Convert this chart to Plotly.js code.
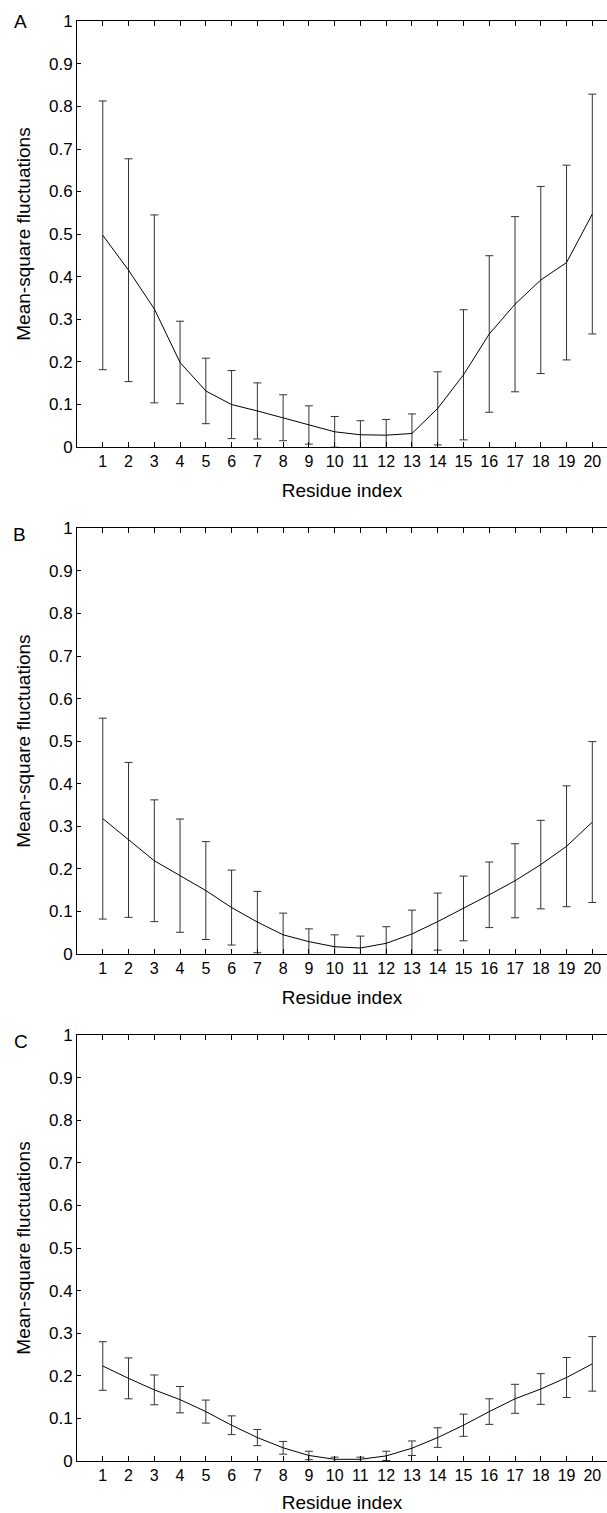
<!DOCTYPE html>
<html>
<head>
<meta charset="utf-8">
<script src="https://cdn.plot.ly/plotly-3.0.1.min.js"></script>
<style>html,body{margin:0;padding:0;background:#fff;}#chart{width:607px;height:1513px;}</style>
</head>
<body>
<div id="chart"></div>
<script>
var residues = [1,2,3,4,5,6,7,8,9,10,11,12,13,14,15,16,17,18,19,20];
var tickLabels = ["1","2","3","4","5","6","7","8","9","10","11","12","13","14","15","16","17","18","19","20"];
var yTickVals = [0,0.1,0.2,0.3,0.4,0.5,0.6,0.7,0.8,0.9,1];
var yTickText = ["0","0.1","0.2","0.3","0.4","0.5","0.6","0.7","0.8","0.9","1"];

var meanA = [0.497,0.415,0.324,0.198,0.131,0.099,0.084,0.068,0.051,0.035,0.028,0.027,0.031,0.090,0.169,0.265,0.335,0.392,0.433,0.547];
var sdA   = [0.316,0.262,0.221,0.097,0.077,0.080,0.066,0.054,0.045,0.036,0.033,0.037,0.046,0.086,0.153,0.184,0.206,0.220,0.229,0.282];

var meanB = [0.318,0.268,0.219,0.184,0.149,0.109,0.075,0.045,0.029,0.017,0.014,0.025,0.047,0.076,0.107,0.139,0.172,0.210,0.253,0.310];
var sdB   = [0.236,0.182,0.143,0.133,0.115,0.088,0.072,0.051,0.030,0.028,0.028,0.039,0.056,0.067,0.076,0.077,0.087,0.104,0.142,0.189];

var meanC = [0.223,0.194,0.167,0.144,0.116,0.084,0.055,0.031,0.013,0.004,0.004,0.012,0.030,0.055,0.084,0.116,0.146,0.169,0.196,0.228];
var sdC   = [0.057,0.048,0.035,0.031,0.027,0.022,0.019,0.015,0.010,0.005,0.005,0.011,0.017,0.023,0.026,0.030,0.034,0.036,0.047,0.064];

var panels = [
  {mean: meanA, sd: sdA, label: "A"},
  {mean: meanB, sd: sdB, label: "B"},
  {mean: meanC, sd: sdC, label: "C"}
];

var font = "Liberation Sans, Arial, sans-serif";
var traces = [];
panels.forEach(function(p, i){
  var s = i === 0 ? "" : String(i+1);
  traces.push({
    x: residues, y: p.mean, type: "scatter", mode: "lines",
    xaxis: "x" + s, yaxis: "y" + s,
    line: {color: "#000", width: 1},
    error_y: {type: "data", array: p.sd, visible: true, color: "#333", thickness: 1, width: 4},
    showlegend: false, hoverinfo: "skip"
  });
});

var domains = [[0.7044, 0.9997], [0.3521, 0.6477], [0, 0.2958]];
var layout = {
  width: 607, height: 1513,
  margin: {l: 77, r: 0, t: 21, b: 52},
  paper_bgcolor: "#fff", plot_bgcolor: "#fff",
  font: {family: font, size: 16, color: "#000"},
  showlegend: false,
  annotations: []
};
var letterY = [21.5, 534.5, 1041.5];
var letterX = [20, 19.5, 20.5];
panels.forEach(function(p, i){
  var s = i === 0 ? "" : String(i+1);
  layout["xaxis" + s] = {
    domain: [0, 1], anchor: "y" + s,
    range: [0, 20.57],
    tickmode: "array", tickvals: residues, ticktext: tickLabels,
    ticks: "inside", ticklen: 5, tickwidth: 1, tickcolor: "#000",
    showline: true, linecolor: "#000", linewidth: 1, mirror: "ticks",
    showgrid: false, zeroline: false, fixedrange: true,
    tickfont: {family: font, size: 16, color: "#000"},
    title: {text: "Residue index", font: {family: font, size: 19, color: "#000"}, standoff: 14}
  };
  layout["yaxis" + s] = {
    domain: domains[i], anchor: "x" + s,
    range: [0, 1],
    tickmode: "array", tickvals: yTickVals, ticktext: yTickText,
    ticks: "inside", ticklen: 4, tickwidth: 1, tickcolor: "#000",
    showline: true, linecolor: "#000", linewidth: 1, mirror: false,
    showgrid: false, zeroline: false, fixedrange: true,
    tickfont: {family: font, size: 17, color: "#000"},
    title: {text: "Mean-square fluctuations", font: {family: font, size: 19, color: "#000"}, standoff: 13}
  };
  layout.annotations.push({
    text: p.label, xref: "paper", yref: "paper",
    x: (letterX[i] - 77) / 530, y: (1461 - letterY[i]) / 1440,
    xanchor: "center", yanchor: "middle", showarrow: false,
    font: {family: font, size: 19, color: "#000"}
  });
});

Plotly.newPlot("chart", traces, layout, {staticPlot: true, displayModeBar: false});
</script>
</body>
</html>
